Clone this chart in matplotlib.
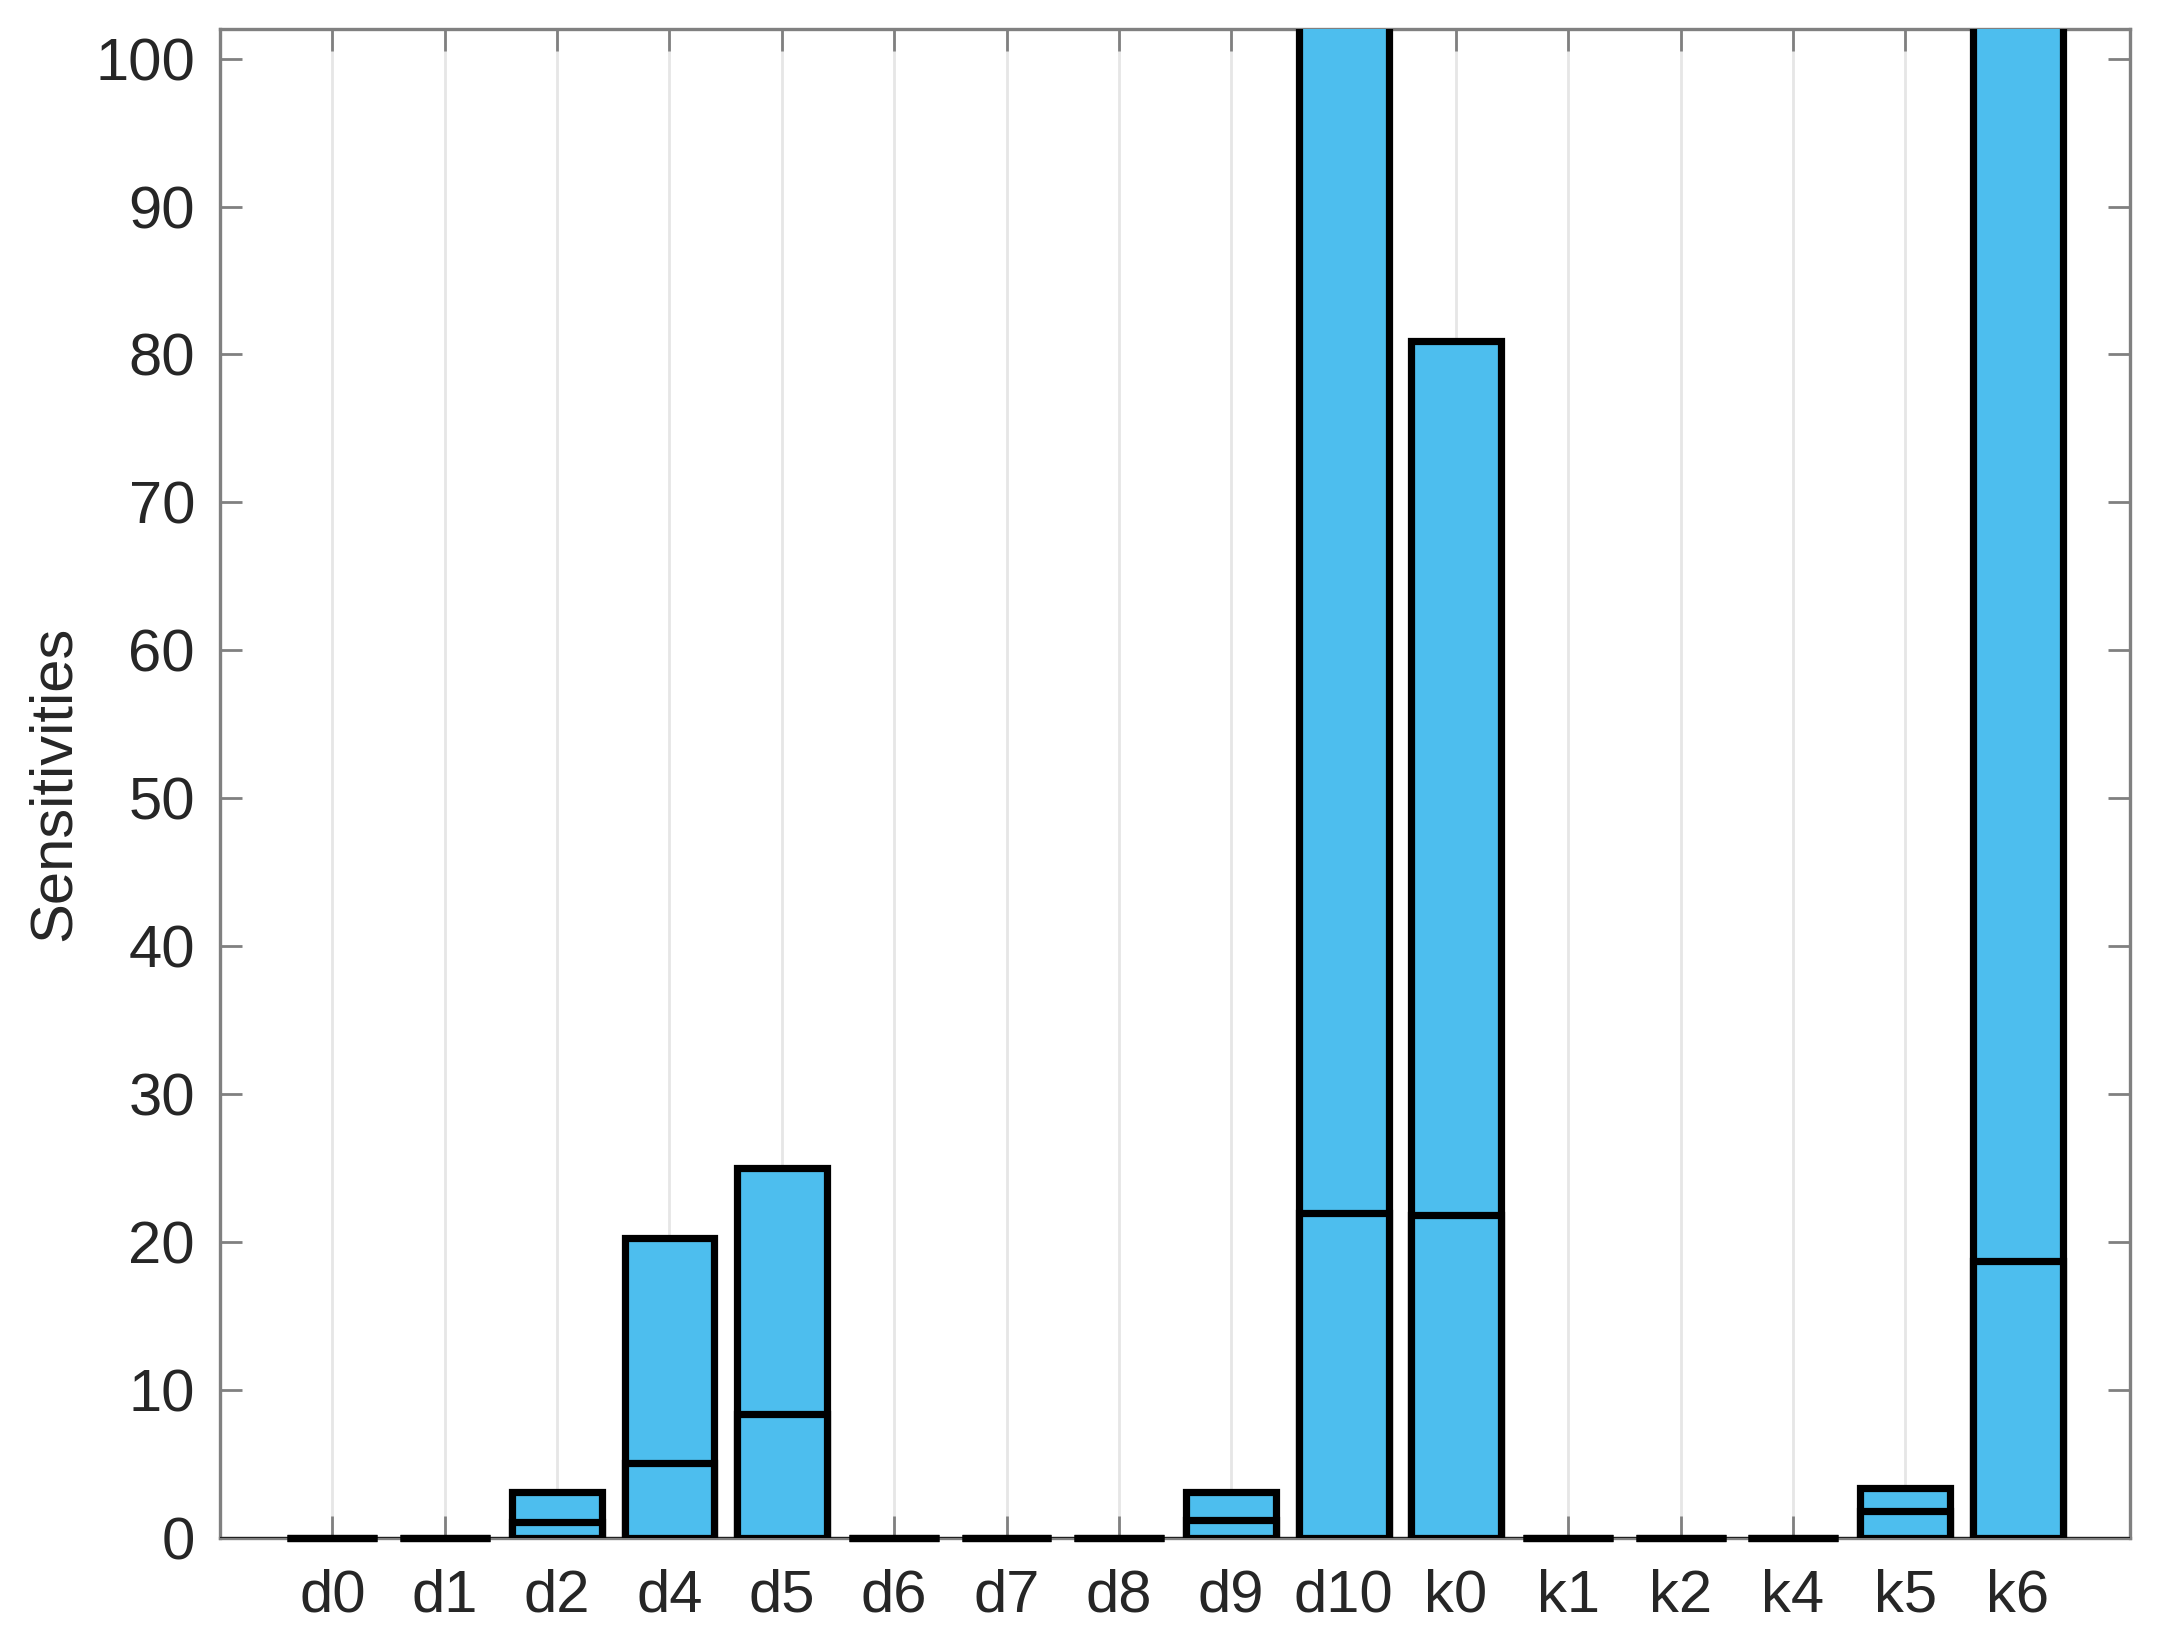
import matplotlib
matplotlib.use("Agg")
import matplotlib.pyplot as plt
import numpy as np

# categories and the two overlaid series (larger drawn first, smaller on top)
categories = ["d0", "d1", "d2", "d4", "d5", "d6", "d7", "d8",
              "d9", "d10", "k0", "k1", "k2", "k4", "k5", "k6"]
total_sens = [0, 0, 3.1, 20.3, 25.0, 0, 0, 0,
              3.1, 130.0, 80.9, 0, 0, 0, 3.4, 130.0]
first_order = [0, 0, 1.1, 5.1, 8.4, 0, 0, 0,
               1.2, 22.0, 21.8, 0, 0, 0, 1.8, 18.7]
y_ticks = list(range(0, 101, 10))

BAR_COLOR = "#4DBEEE"
AXIS_GRAY = "#808080"
TEXT_COLOR = "#262626"

plt.rcParams["font.family"] = ["Liberation Sans", "DejaVu Sans"]

fig = plt.figure(figsize=(10.82, 8.23), dpi=200)
ax = fig.add_axes([0.1017, 0.0656, 0.8826, 0.9168])

x = np.arange(1, len(categories) + 1)
ax.axhline(0, color="#202020", linewidth=0.8, zorder=2.6)
for vals, z in [(total_sens, 3), (first_order, 4)]:
    bars = ax.bar(x, vals, width=0.8, color=BAR_COLOR, edgecolor="black",
                  linewidth=2.6, zorder=z)
    # zero-height bars show as a full-width black stroke on the baseline
    for b, v in zip(bars, vals):
        if v == 0:
            b.set_clip_on(False)

ax.set_xlim(0, 17)
ax.set_ylim(0, 102)
ax.set_xticks(x)
ax.set_xticklabels(categories)
ax.set_yticks(y_ticks)

ax.grid(True, axis="x", color="#e6e6e6", linewidth=1.0, zorder=0)
ax.set_axisbelow(True)

ax.tick_params(axis="both", direction="in", length=8, width=1.0,
               color=AXIS_GRAY, labelsize=21.5, labelcolor=TEXT_COLOR)
ax.tick_params(axis="y", right=True, pad=9)
ax.tick_params(axis="x", top=True, pad=11)
for s in ax.spines.values():
    s.set_color(AXIS_GRAY)
    s.set_linewidth(1.2)

ax.set_ylabel("Sensitivities", fontsize=21.5, color=TEXT_COLOR, labelpad=5)

fig.savefig("out.png", dpi=200)
